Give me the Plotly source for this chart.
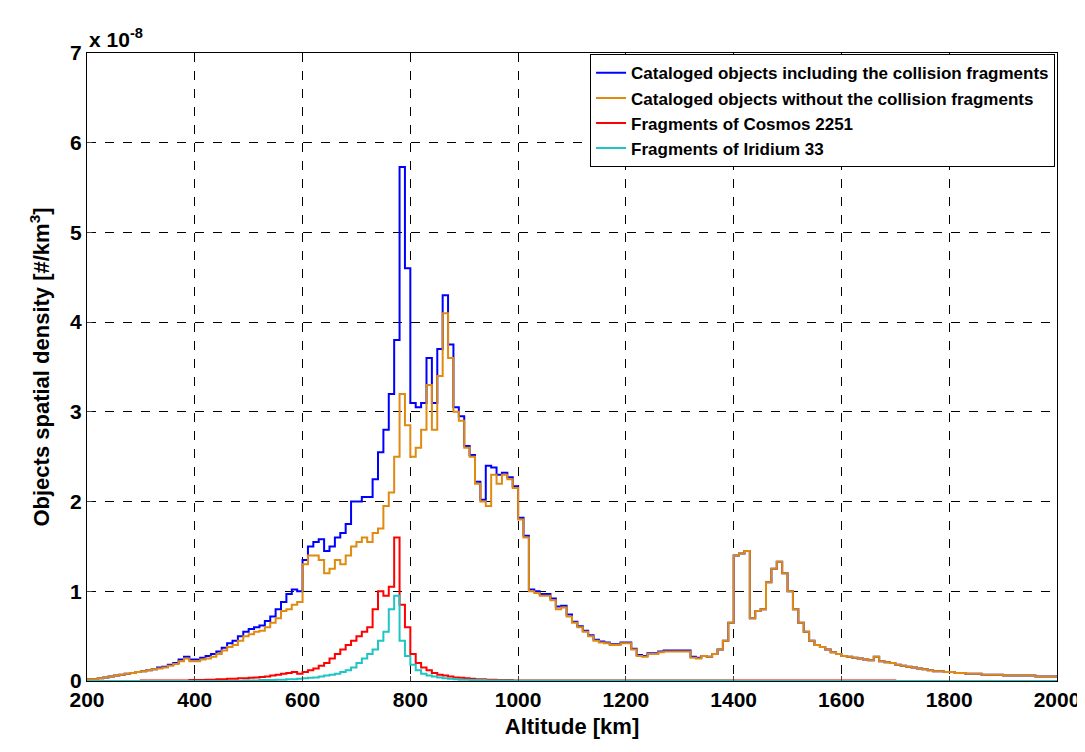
import plotly.graph_objects as go

## step data, 10 km bins, left edges 200..1990 (units 1e-8 #/km^3)
alt = list(range(200, 2000, 10))

without = [0.02,0.02,0.03,0.04,0.05,0.06,0.07,0.08,0.09,0.10,
           0.11,0.12,0.13,0.14,0.15,0.17,0.19,0.22,0.25,0.22,
           0.22,0.24,0.25,0.27,0.30,0.34,0.38,0.40,0.45,0.50,
           0.52,0.55,0.56,0.60,0.65,0.70,0.78,0.80,0.85,0.88,
           1.30,1.40,1.40,1.35,1.20,1.25,1.35,1.30,1.40,1.50,
           1.55,1.60,1.55,1.65,1.70,1.95,2.10,2.50,3.20,2.85,
           2.50,2.60,2.80,3.30,2.80,3.40,4.10,3.60,3.00,2.90,
           2.60,2.50,2.20,2.00,1.95,2.30,2.20,2.30,
           2.25,2.15,1.80,1.60,1.00,0.98,0.95,0.95,0.90,0.80,
           0.82,0.72,0.65,0.60,0.55,0.50,0.45,0.43,0.42,0.40,
           0.40,0.42,0.42,0.35,0.28,0.27,0.30,0.30,0.32,0.33,
           0.33,0.33,0.33,0.33,0.26,0.25,0.28,0.27,0.30,0.35,
           0.45,0.65,1.40,1.42,1.45,0.70,0.78,0.80,1.10,1.25,
           1.33,1.20,1.00,0.80,0.65,0.55,0.45,0.40,0.38,0.35,
           0.32,0.30,0.28,0.27,0.26,0.25,0.24,0.23,0.27,0.22,
           0.21,0.20,0.18,0.17,0.16,0.15,0.14,0.13,0.12,0.11,
           0.11,0.10,0.10,0.09,0.09,0.08,0.08,0.08,0.07,0.07,
           0.07,0.07,0.06,0.06,0.06,0.06,0.06,0.06,0.05,0.05,0.05,0.05]

including = [0.02,0.02,0.03,0.04,0.05,0.06,0.07,0.08,0.09,0.10,
             0.11,0.12,0.13,0.15,0.16,0.18,0.20,0.24,0.27,0.24,
             0.24,0.26,0.28,0.30,0.33,0.37,0.42,0.45,0.50,0.55,
             0.58,0.60,0.62,0.67,0.72,0.80,0.88,0.97,1.02,1.00,
             1.35,1.50,1.55,1.58,1.45,1.50,1.60,1.65,1.75,2.00,
             2.00,2.05,2.05,2.25,2.55,2.80,3.20,3.80,5.73,4.60,
             3.10,3.05,3.10,3.60,3.10,3.70,4.30,3.75,3.05,2.95,
             2.62,2.52,2.22,2.02,2.40,2.38,2.30,2.32,
             2.27,2.17,1.82,1.62,1.02,1.00,0.97,0.97,0.92,0.83,
             0.84,0.74,0.66,0.61,0.56,0.51,0.46,0.44,0.43,0.41,
             0.41,0.43,0.43,0.36,0.29,0.28,0.31,0.31,0.33,0.34,
             0.34,0.34,0.34,0.34,0.27,0.26,0.28,0.27,0.30,0.35,
             0.45,0.65,1.40,1.42,1.45,0.70,0.78,0.80,1.10,1.25,
             1.33,1.20,1.00,0.80,0.65,0.55,0.45,0.40,0.38,0.35,
             0.32,0.30,0.28,0.27,0.26,0.25,0.24,0.23,0.27,0.22,
             0.21,0.20,0.18,0.17,0.16,0.15,0.14,0.13,0.12,0.11,
             0.11,0.10,0.10,0.09,0.09,0.08,0.08,0.08,0.07,0.07,
             0.07,0.07,0.06,0.06,0.06,0.06,0.06,0.06,0.05,0.05,0.05,0.05]

cosmos = [0.0]*10 + [0.005]*9 + \
         [0.01,0.01,0.01,0.015,0.015,0.02,0.02,0.025,0.025,0.03,
          0.03,0.035,0.04,0.045,0.05,0.06,0.07,0.08,0.09,0.10,
          0.08,0.10,0.12,0.14,0.17,0.20,0.25,0.30,0.35,0.40,
          0.45,0.50,0.55,0.60,0.80,1.00,0.95,1.05,1.60,0.85,
          0.60,0.30,0.20,0.15,0.12,0.09,0.07,0.06,0.05,0.04,
          0.035,0.03,0.025,0.02,0.02,0.015,0.015,0.01,0.01,0.01] + [0.005]*71 + [0.0]*30

iridium = [0.0]*29 + \
          [0.005,0.005,0.005,0.01,0.01,0.01,0.015,0.015,0.02,0.02,
           0.025,0.03,0.035,0.04,0.05,0.06,0.07,0.08,0.10,0.12,
           0.15,0.20,0.25,0.30,0.35,0.45,0.55,0.80,0.95,0.45,
           0.28,0.18,0.12,0.08,0.06,0.05,0.04,0.03,0.025,0.02,
           0.015,0.015,0.01,0.01,0.01,0.005,0.005,0.005,0.005,0.005] + [0.003]*41 + [0.0]*60

xs = alt + [2000]
series = [
    ("Cataloged objects including the collision fragments", including, "#0000ff"),
    ("Cataloged objects without the collision fragments", without, "#e08a10"),
    ("Fragments of Cosmos 2251", cosmos, "#ff0000"),
    ("Fragments of Iridium 33", iridium, "#1fc4c4"),
]

fig = go.Figure()
for name, vals, col in series:
    fig.add_trace(go.Scatter(x=xs, y=vals + [vals[-1]], mode="lines", name="<b>" + name + "</b>",
                             line=dict(color=col, width=2, shape="hv")))

axis_font = dict(family="Liberation Sans", size=21, color="black")
fig.update_layout(
    width=1085, height=752,
    plot_bgcolor="white", paper_bgcolor="white",
    margin=dict(l=79, r=36, t=45, b=79),
    font=dict(family="Liberation Sans", size=16, color="black"),
    legend=dict(x=0.998, y=0.998, xanchor="right", yanchor="top",
                bordercolor="black", borderwidth=1, bgcolor="white",
                font=dict(size=17, family="Liberation Sans"),
                tracegroupgap=0),
    xaxis=dict(range=[200, 2000], dtick=200, showgrid=True,
               gridcolor="black", griddash="dash", gridwidth=1,
               showline=True, linecolor="black", mirror=True, ticks="inside",
               tickfont=axis_font, zeroline=False,
               tickprefix="<b>", ticksuffix="</b>",
               title=dict(text="<b>Altitude [km]</b>", font=dict(size=22), standoff=8)),
    yaxis=dict(range=[0, 7], dtick=1, showgrid=True,
               gridcolor="black", griddash="dash", gridwidth=1,
               showline=True, linecolor="black", mirror=True, ticks="inside",
               tickfont=axis_font, zeroline=False,
               tickprefix="<b>", ticksuffix="</b>",
               title=dict(text="<b>Objects spatial density [#/km<sup>3</sup>]</b>",
                          font=dict(size=22), standoff=14)),
    annotations=[dict(x=0, y=1.0, xref="paper", yref="paper", xanchor="left",
                      yanchor="bottom", showarrow=False,
                      text="<b>x 10<sup>-8</sup></b>", font=axis_font)],
)

fig.write_html("out.html")
